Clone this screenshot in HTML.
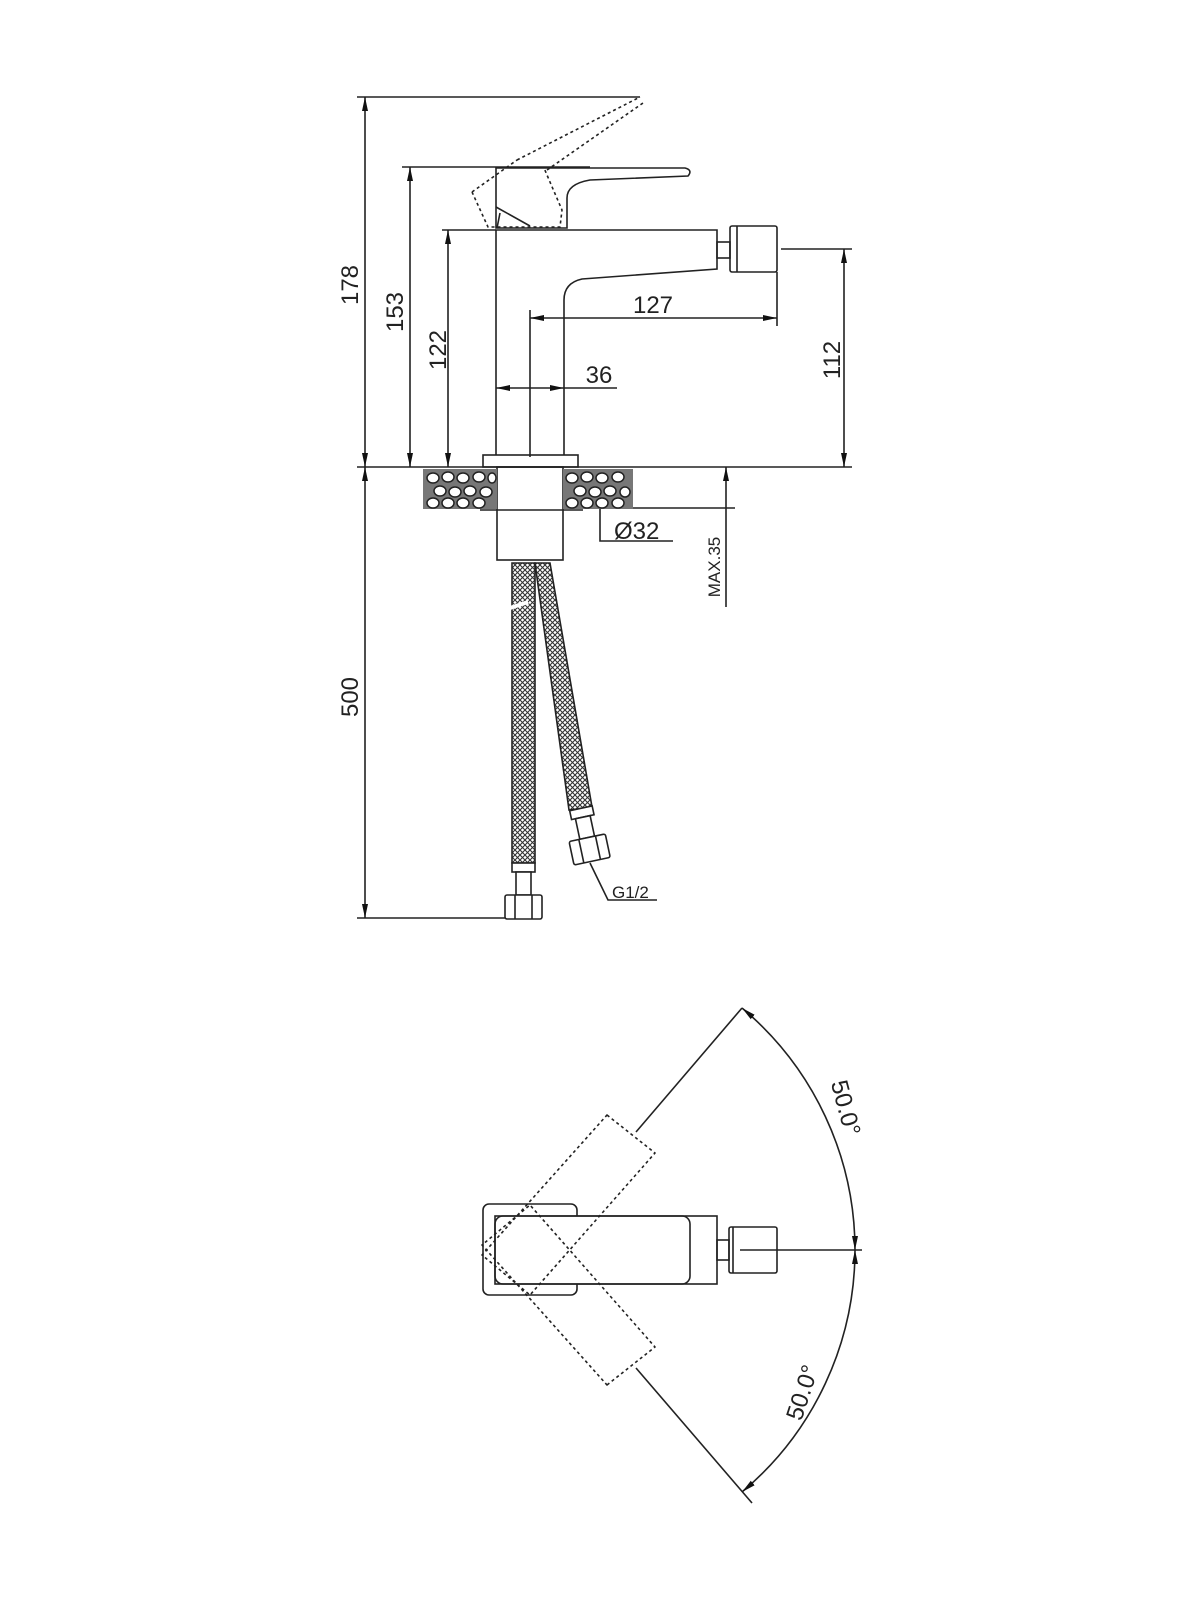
<!DOCTYPE html>
<html><head><meta charset="utf-8"><style>
html,body{margin:0;padding:0;background:#fff;}
svg{display:block}
text{font-family:"Liberation Sans",sans-serif;fill:#222;}
</style></head><body>
<svg width="1200" height="1600" viewBox="0 0 1200 1600" xmlns="http://www.w3.org/2000/svg">
<defs>
<pattern id="mesh" width="5" height="5" patternUnits="userSpaceOnUse">
<rect width="5" height="5" fill="#fff"/>
<path d="M0 0L5 5M5 0L0 5" stroke="#333" stroke-width="1.1"/>
</pattern>
<marker id="ar" markerWidth="14" markerHeight="8" refX="14" refY="4" orient="auto-start-reverse" markerUnits="userSpaceOnUse">
<path d="M0 1L14 4L0 7Z" fill="#111"/>
</marker>
</defs>
<g stroke="#222" stroke-width="1.6" fill="none">
<line x1="357" y1="97" x2="640" y2="97"/>
<line x1="402" y1="167" x2="590" y2="167"/>
<line x1="442" y1="230" x2="496" y2="230"/>
<line x1="357" y1="467" x2="852" y2="467"/>
<line x1="781" y1="249" x2="852" y2="249"/>
<line x1="357" y1="918" x2="525" y2="918"/>
<line x1="365" y1="97" x2="365" y2="467" marker-start="url(#ar)" marker-end="url(#ar)"/>
<line x1="365" y1="467" x2="365" y2="918" marker-start="url(#ar)" marker-end="url(#ar)"/>
<line x1="410" y1="167" x2="410" y2="467" marker-start="url(#ar)" marker-end="url(#ar)"/>
<line x1="448" y1="230" x2="448" y2="467" marker-start="url(#ar)" marker-end="url(#ar)"/>
<line x1="844" y1="249" x2="844" y2="467" marker-start="url(#ar)" marker-end="url(#ar)"/>
<line x1="530" y1="318" x2="777" y2="318" marker-start="url(#ar)" marker-end="url(#ar)"/>
<line x1="530" y1="310" x2="530" y2="457"/>
<line x1="777" y1="272" x2="777" y2="326"/>
<line x1="496" y1="388" x2="564" y2="388" marker-start="url(#ar)" marker-end="url(#ar)"/>
<line x1="564" y1="388" x2="617" y2="388"/>
<line x1="726" y1="507" x2="726" y2="467" marker-end="url(#ar)"/>
<line x1="726" y1="507" x2="726" y2="607"/>
<line x1="633" y1="508" x2="735" y2="508"/>
<polyline points="600,490 600,541 673,541"/>
<polyline points="590,863 608,900 657,900"/>
<path d="M496 455V230H717V269L582 279Q564 283 564 300V455"/>
<rect x="483" y="455" width="95" height="12"/>
<rect x="717" y="242" width="13" height="16"/>
<rect x="730" y="226" width="47" height="46" rx="2"/>
<line x1="737" y1="226" x2="737" y2="272"/>
<path d="M496 228V168H685Q693 170 688 176L590 180Q567 184 567 198V228Z"/>
<path d="M496 207L530 226"/>
<line x1="500" y1="213" x2="497" y2="228"/>
<path d="M472 192L488 227H560L562 210L544 168M517 160L640 97M547 170L643 103M472 192L517 160" stroke-dasharray="3,3"/>
<rect x="497" y="467" width="66" height="93"/>
<line x1="480" y1="510" x2="583" y2="510"/>
</g>
<g stroke="#222" stroke-width="1.5" fill="#fff">
<rect x="423" y="469" width="74" height="40" fill="#777" stroke="none"/>
<rect x="563" y="469" width="70" height="40" fill="#777" stroke="none"/>
<g>
<ellipse cx="433" cy="478" rx="6" ry="5"/><ellipse cx="448" cy="477" rx="6" ry="5"/><ellipse cx="463" cy="478" rx="6" ry="5"/><ellipse cx="479" cy="477" rx="6" ry="5"/><ellipse cx="492" cy="478" rx="4" ry="5"/>
<ellipse cx="440" cy="491" rx="6" ry="5"/><ellipse cx="455" cy="492" rx="6" ry="5"/><ellipse cx="470" cy="491" rx="6" ry="5"/><ellipse cx="486" cy="492" rx="6" ry="5"/>
<ellipse cx="433" cy="503" rx="6" ry="5"/><ellipse cx="448" cy="503" rx="6" ry="5"/><ellipse cx="463" cy="503" rx="6" ry="5"/><ellipse cx="479" cy="503" rx="6" ry="5"/>
<ellipse cx="572" cy="478" rx="6" ry="5"/><ellipse cx="587" cy="477" rx="6" ry="5"/><ellipse cx="602" cy="478" rx="6" ry="5"/><ellipse cx="618" cy="477" rx="6" ry="5"/>
<ellipse cx="580" cy="491" rx="6" ry="5"/><ellipse cx="595" cy="492" rx="6" ry="5"/><ellipse cx="610" cy="491" rx="6" ry="5"/><ellipse cx="625" cy="492" rx="5" ry="5"/>
<ellipse cx="572" cy="503" rx="6" ry="5"/><ellipse cx="587" cy="503" rx="6" ry="5"/><ellipse cx="602" cy="503" rx="6" ry="5"/><ellipse cx="618" cy="503" rx="6" ry="5"/>
</g>
</g>
<g stroke="#222" stroke-width="1.6">
<polygon points="512,563 535,563 535,863 512,863" fill="url(#mesh)"/>
<polygon points="535,563 550,563 592,807 569,810" fill="url(#mesh)"/>
<g fill="#fff">
<rect x="512" y="863" width="23" height="9"/><rect x="516" y="872" width="15" height="23"/><rect x="505" y="895" width="37" height="24" rx="2"/>
<line x1="515" y1="895" x2="515" y2="919"/><line x1="532" y1="895" x2="532" y2="919"/>
<g transform="rotate(-12 585 830)"><rect x="574" y="808" width="23" height="9"/><rect x="578" y="817" width="15" height="21"/><rect x="567" y="838" width="37" height="24" rx="2"/><line x1="577" y1="838" x2="577" y2="862"/><line x1="594" y1="838" x2="594" y2="862"/></g>
</g>
</g>
<path d="M510 608L528 602" stroke="#fff" stroke-width="4"/>
<g font-size="24">
<text x="0" y="0" transform="translate(358 285) rotate(-90)" text-anchor="middle">178</text>
<text x="0" y="0" transform="translate(403 312) rotate(-90)" text-anchor="middle">153</text>
<text x="0" y="0" transform="translate(446 350) rotate(-90)" text-anchor="middle">122</text>
<text x="0" y="0" transform="translate(840 360) rotate(-90)" text-anchor="middle">112</text>
<text x="0" y="0" transform="translate(358 697) rotate(-90)" text-anchor="middle">500</text>
<text x="653" y="313" text-anchor="middle">127</text>
<text x="599" y="383" text-anchor="middle">36</text>
<text x="614" y="539">Ø32</text>
</g>
<text x="0" y="0" transform="translate(720 567) rotate(-90)" text-anchor="middle" font-size="17">MAX.35</text>
<text x="612" y="898" font-size="17">G1/2</text>
<g stroke="#222" stroke-width="1.6" fill="none">
<rect x="483" y="1204" width="94" height="91" rx="6"/>
<rect x="495" y="1216" width="222" height="68" fill="#fff"/>
<rect x="495" y="1216" width="195" height="68" rx="8"/>
<rect x="717" y="1240" width="12" height="20"/>
<rect x="729" y="1227" width="48" height="46" rx="2"/>
<line x1="733" y1="1227" x2="733" y2="1273"/>
<line x1="740" y1="1250" x2="862" y2="1250"/>
<polygon points="607,1115 655,1153 530,1295 482,1255" stroke-dasharray="3,3" stroke-linejoin="round"/>
<polygon points="607,1385 655,1347 530,1205 482,1245" stroke-dasharray="3,3" stroke-linejoin="round"/>
<line x1="636" y1="1132" x2="742" y2="1008"/>
<line x1="636" y1="1368" x2="752" y2="1503"/>
<path d="M742 1008A316 316 0 0 1 855 1250" marker-start="url(#ar)" marker-end="url(#ar)"/>
<path d="M855 1250A316 316 0 0 1 742 1492" marker-start="url(#ar)" marker-end="url(#ar)"/>
</g>
<text x="0" y="0" transform="translate(838 1110) rotate(75)" text-anchor="middle" font-size="24">50.0°</text>
<text x="0" y="0" transform="translate(810 1395) rotate(-72)" text-anchor="middle" font-size="24">50.0°</text>
</svg>
</body></html>
